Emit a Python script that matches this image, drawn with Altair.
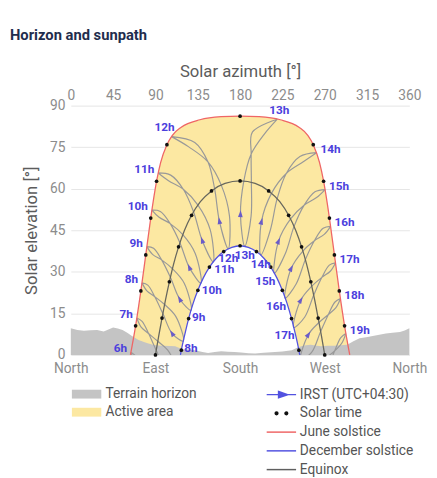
import altair as alt
import pandas as pd

# ---------------- data ----------------
TITLE = "Horizon and sunpath"
X_TITLE = "Solar azimuth [°]"
Y_TITLE = "Solar elevation [°]"
AZ_TICKS = [0, 45, 90, 135, 180, 225, 270, 315, 360]
COMPASS_TICKS = [0, 90, 180, 270, 360]
COMPASS_LABELS = ["North", "East", "South", "West", "North"]
EL_TICKS = [0, 15, 30, 45, 60, 75, 90]

TERRAIN_AZ = [0, 7, 14, 21, 28, 35, 40, 45, 50, 55, 60, 65, 72, 80, 88, 97, 105, 111,
              118, 125, 132, 140, 146, 153, 160, 167, 174, 181, 189, 196, 205, 217, 225,
              235, 240, 245, 250, 255, 260, 266, 273, 280, 287, 294, 300, 307, 314, 321,
              328, 335, 342, 350, 355, 360]
TERRAIN_EL = [9.6, 9.0, 8.7, 8.9, 9.0, 8.4, 9.2, 9.9, 9.5, 9.0, 8.0, 6.8, 5.4, 4.4, 3.6,
              3.3, 3.2, 3.1, 2.1, 1.9, 1.7, 1.0, 0.7, 1.0, 1.3, 1.1, 1.0, 0.9, 0.6, 0.5,
              0.8, 1.0, 1.2, 1.7, 2.5, 3.1, 3.5, 3.7, 3.4, 3.1, 3.3, 3.3, 3.5, 3.7, 4.8,
              6.0, 6.4, 6.8, 7.3, 7.7, 8.0, 8.3, 8.8, 9.6]

JUNE_AZ = [63.4, 68.9, 74.5, 79.7, 85.0, 91.2, 95.5, 102.2, 107.8, 117.4, 137.2, 159.8, 180.0,
           200.2, 222.8, 242.6, 252.2, 257.8, 264.5, 268.8, 275.0, 280.3, 285.5, 291.1, 296.6]
JUNE_EL = [0.0, 10.5, 23.1, 36.1, 49.4, 62.7, 69.4, 75.9, 79.2, 82.2, 84.9, 86.0, 86.2,
           86.0, 84.9, 82.2, 79.2, 75.9, 69.4, 62.7, 49.4, 36.1, 23.1, 10.5, 0.0]

DEC_AZ = [116.6, 117.5, 121.3, 125.3, 129.9, 135.1, 140.9, 147.4, 154.7, 162.6, 171.2, 180.0,
          188.8, 197.4, 205.3, 212.6, 219.1, 224.9, 230.1, 234.7, 238.8, 242.5, 243.4]
DEC_EL = [0.0, 1.7, 7.5, 13.1, 18.4, 23.3, 27.8, 31.7, 34.9, 37.3, 38.8, 39.4,
          38.8, 37.3, 34.9, 31.7, 27.8, 23.3, 18.4, 13.1, 7.5, 1.7, 0.0]

EQX_AZ = [90.0, 93.4, 97.0, 100.7, 104.8, 109.3, 114.6, 120.8, 128.4, 137.8, 149.6, 164.0, 180.0,
          196.0, 210.4, 222.2, 231.6, 239.2, 245.4, 250.7, 255.2, 259.3, 263.0, 266.6, 270.0]
EQX_EL = [0.0, 6.7, 13.3, 19.9, 26.4, 32.8, 39.0, 44.9, 50.4, 55.3, 59.2, 61.9, 62.8,
          61.9, 59.2, 55.3, 50.4, 44.9, 39.0, 32.8, 26.4, 19.9, 13.3, 6.7, 0.0]

# solar-time hour dots
JUNE_DOT_AZ = [68.9, 74.5, 79.7, 85.0, 91.2, 102.2, 180.0, 257.8, 268.8, 275.0, 280.3, 285.5, 291.1]
JUNE_DOT_EL = [10.5, 23.1, 36.1, 49.4, 62.7, 75.9, 86.2, 75.9, 62.7, 49.4, 36.1, 23.1, 10.5]
DEC_DOT_AZ = [117.5, 125.3, 135.1, 147.4, 162.6, 180.0, 197.4, 212.6, 224.9, 234.7, 242.5]
DEC_DOT_EL = [1.7, 13.1, 23.3, 31.7, 37.3, 39.4, 37.3, 31.7, 23.3, 13.1, 1.7]
EQX_DOT_AZ = [90.0, 97.0, 104.8, 114.6, 128.4, 149.6, 180.0, 210.4, 231.6, 245.4, 255.2, 263.0, 270.0]
EQX_DOT_EL = [0.0, 13.3, 26.4, 39.0, 50.4, 59.2, 62.8, 59.2, 50.4, 39.0, 26.4, 13.3, 0.0]

# IRST clock-hour analemmas (az, el), June end first
ANALEMMA_06H = [(64.0, 1.0), (68.2, -2.6), (75.9, -5.4), (69.3, -0.6), (64.0, 1.0)]
ANALEMMA_07H = [(70.2, 13.3), (74.8, 10.0), (82.7, 7.7), (92.5, 4.9), (104.2, 1.2), (112.8, -7.0),
                (100.8, -5.2), (90.8, 1.7), (82.7, 7.7), (75.8, 12.1), (70.2, 13.3)]
ANALEMMA_08H = [(75.7, 26.0), (80.9, 23.1), (89.3, 21.0), (99.7, 18.2), (111.6, 13.9), (119.6, 5.0),
                (107.8, 7.7), (97.9, 14.9), (89.3, 21.0), (81.8, 25.2), (75.7, 26.0)]
ANALEMMA_09H = [(80.9, 39.1), (86.9, 36.3), (96.6, 34.3), (108.1, 31.1), (120.6, 25.9), (127.9, 16.1),
                (115.9, 20.1), (105.9, 28.0), (96.6, 34.3), (88.0, 38.5), (80.9, 39.1)]
ANALEMMA_10H = [(86.2, 52.3), (93.9, 49.7), (105.7, 47.4), (119.1, 43.4), (132.3, 36.6), (138.3, 25.9),
                (126.1, 31.5), (116.0, 40.5), (105.7, 47.4), (95.2, 51.8), (86.2, 52.3)]
ANALEMMA_11H = [(92.9, 65.7), (103.9, 62.9), (119.6, 59.8), (135.2, 54.1), (148.2, 45.2), (151.4, 33.6),
                (139.7, 41.3), (130.5, 51.7), (119.6, 59.8), (106.2, 64.9), (92.9, 65.7)]
ANALEMMA_12H = [(107.1, 78.8), (125.4, 75.1), (145.8, 69.7), (160.0, 61.3), (168.7, 50.2), (167.4, 38.3),
                (158.0, 48.3), (152.9, 60.0), (145.8, 69.7), (131.8, 76.7), (107.1, 78.8)]
ANALEMMA_13H = [(219.6, 85.1), (193.2, 80.5), (191.8, 72.5), (192.0, 62.3), (191.7, 50.1), (185.0, 39.2),
                (180.4, 50.8), (184.0, 62.8), (191.8, 72.5), (206.0, 79.8), (219.6, 85.1)]
ANALEMMA_14H = [(261.3, 73.0), (243.6, 71.6), (229.1, 65.5), (219.4, 56.4), (212.2, 45.1), (202.0, 36.1),
                (202.7, 48.1), (213.5, 58.4), (229.1, 65.5), (247.2, 69.7), (261.3, 73.0)]
ANALEMMA_15H = [(270.4, 59.7), (259.6, 58.9), (248.0, 54.0), (237.4, 46.4), (227.9, 36.4), (216.4, 29.5),
                (220.8, 41.0), (233.7, 49.1), (248.0, 54.0), (261.3, 56.8), (270.4, 59.7)]
ANALEMMA_16H = [(276.3, 46.4), (268.3, 45.7), (259.0, 41.2), (249.4, 34.4), (239.6, 25.6), (227.9, 20.5),
                (234.3, 31.2), (246.8, 37.5), (259.0, 41.2), (269.5, 43.5), (276.3, 46.4)]
ANALEMMA_17H = [(281.4, 33.2), (274.9, 32.4), (267.0, 28.0), (258.3, 21.6), (248.6, 13.6), (237.0, 9.9),
                (244.4, 19.7), (256.3, 24.8), (267.0, 28.0), (275.9, 30.2), (281.4, 33.2)]
ANALEMMA_18H = [(286.7, 20.3), (280.9, 19.1), (273.9, 14.6), (265.6, 8.4), (256.0, 0.9), (244.4, -1.7),
                (252.5, 7.3), (263.9, 11.7), (273.9, 14.6), (281.9, 17.1), (286.7, 20.3)]
ANALEMMA_19H = [(292.4, 7.7), (287.1, 6.2), (280.5, 1.4), (272.5, -4.9), (270.9, -1.7), (280.5, 1.4),
                (288.1, 4.2), (292.4, 7.7)]

HOURS = [6, 7, 8, 9, 10, 11, 12, 13, 14, 15, 16, 17, 18, 19]
HOUR_LABELS = ["6h", "7h", "8h", "9h", "10h", "11h", "12h", "13h", "14h", "15h", "16h", "17h", "18h", "19h"]
ANALEMMAS = [ANALEMMA_06H, ANALEMMA_07H, ANALEMMA_08H, ANALEMMA_09H, ANALEMMA_10H, ANALEMMA_11H,
             ANALEMMA_12H, ANALEMMA_13H, ANALEMMA_14H, ANALEMMA_15H, ANALEMMA_16H, ANALEMMA_17H,
             ANALEMMA_18H, ANALEMMA_19H]

# December-end label hours and positions
DEC_END_HOURS = [8, 9, 10, 11, 12, 13, 14, 15, 16, 17]
DEC_END_AZ = [119.6, 127.9, 138.3, 151.4, 167.4, 185.0, 202.0, 216.4, 227.9, 237.0]
DEC_END_EL = [5.0, 16.1, 25.9, 33.6, 38.3, 39.2, 36.1, 29.5, 20.5, 9.9]

# direction arrows on the analemmas
ARROW_AZ = [107.8, 115.9, 126.1, 139.7, 158.0, 180.4, 202.7, 220.8, 234.3, 244.4, 252.5]
ARROW_EL = [7.7, 20.1, 31.5, 41.3, 48.3, 50.8, 48.1, 41.0, 31.2, 19.7, 7.3]
ARROW_ANGLE = [329, 332, 336, 341, 349, 2, 15, 23, 27, 31, 34]

LEGEND_AREA_ITEMS = ["Terrain horizon", "Active area"]
LEGEND_LINE_ITEMS = ["IRST (UTC+04:30)", "Solar time", "June solstice", "December solstice", "Equinox"]

# ---------------- styles ----------------
FONT = "Roboto"
C_TERRAIN = "#c4c4c4"
C_ACTIVE = "#fce8a2"
C_JUNE = "#ef6666"
C_DEC = "#5252e0"
C_EQX = "#67675e"
C_ANA = "#999999"
C_ARROW = "#6a5cc8"
C_LABEL = "#4b40dd"
C_DOT = "#111111"
C_AXLAB = "#8c8c8c"
C_AXTITLE = "#5c5c5c"

XS = alt.Scale(domain=[0, 360], nice=False, zero=False)
YS = alt.Scale(domain=[0, 90], nice=False, zero=False)

# ---------------- frames ----------------
terrain_df = pd.DataFrame({"az": TERRAIN_AZ, "el": TERRAIN_EL})
june_df = pd.DataFrame({"az": JUNE_AZ, "el": JUNE_EL})
dec_df = pd.DataFrame({"az": DEC_AZ, "el": DEC_EL})
eqx_df = pd.DataFrame({"az": EQX_AZ, "el": EQX_EL})
dots_df = pd.DataFrame({
    "az": JUNE_DOT_AZ + DEC_DOT_AZ + EQX_DOT_AZ,
    "el": JUNE_DOT_EL + DEC_DOT_EL + EQX_DOT_EL,
})
rows = []
for h, path in zip(HOURS, ANALEMMAS):
    for i, (a, e) in enumerate(path):
        rows.append({"hour": h, "seq": i, "az": a, "el": e})
ana_df = pd.DataFrame(rows)

june_lab_df = pd.DataFrame({
    "hour": HOURS, "label": HOUR_LABELS,
    "az": [p[0][0] for p in ANALEMMAS], "el": [p[0][1] for p in ANALEMMAS],
})
dec_lab_df = pd.DataFrame({
    "hour": DEC_END_HOURS,
    "label": [HOUR_LABELS[HOURS.index(h)] for h in DEC_END_HOURS],
    "az": DEC_END_AZ, "el": DEC_END_EL,
})
arrow_df = pd.DataFrame({"az": ARROW_AZ, "el": ARROW_EL, "ang": ARROW_ANGLE})

# ---------------- axes ----------------
compass_expr = " : ".join(
    f"datum.value == {v} ? '{l}'" for v, l in zip(COMPASS_TICKS, COMPASS_LABELS)
) + " : ''"

top_axis = alt.Axis(orient="top", values=AZ_TICKS, title=X_TITLE, grid=False, ticks=False,
                    domain=False, labelPadding=3, titlePadding=9, labelFontSize=14,
                    titleFontSize=17, labelColor=C_AXLAB, titleColor=C_AXTITLE,
                    titleFontWeight="normal", labelFlush=False, labelFont=FONT, titleFont=FONT)
bottom_axis = alt.Axis(orient="bottom", values=COMPASS_TICKS, labelExpr=compass_expr, title=None,
                       grid=False, ticks=False, domain=False, labelPadding=7, labelFontSize=14,
                       labelColor=C_AXLAB, labelFlush=False, labelFont=FONT)
y_axis = alt.Axis(values=EL_TICKS, title=Y_TITLE, grid=True, gridColor="#e6e6e6", ticks=False,
                  domain=False, labelPadding=6, titlePadding=9, labelFontSize=14,
                  titleFontSize=17, labelColor=C_AXLAB, titleColor=C_AXTITLE,
                  titleFontWeight="normal", labelFont=FONT, titleFont=FONT)


def enc(xaxis=None, yaxis=None):
    return dict(
        x=alt.X("az:Q", scale=XS, axis=xaxis),
        y=alt.Y("el:Q", scale=YS, axis=yaxis, stack=None),
    )


active = alt.Chart(june_df).mark_area(interpolate="monotone", color=C_ACTIVE, opacity=1).encode(
    **enc(top_axis, y_axis))
dec_hole = alt.Chart(dec_df).mark_area(interpolate="monotone", color="white", opacity=1).encode(**enc())
terrain = alt.Chart(terrain_df).mark_area(interpolate="linear", color=C_TERRAIN, opacity=1).encode(
    **enc(bottom_axis, None))

ana_lines = alt.Chart(ana_df).mark_line(interpolate="catmull-rom", color=C_ANA, strokeWidth=1.2,
                                         clip=True).encode(
    **enc(), detail="hour:N", order="seq:Q")
eqx_line = alt.Chart(eqx_df).mark_line(interpolate="monotone", color=C_EQX, strokeWidth=1.3,
                                        clip=True).encode(**enc())
june_line = alt.Chart(june_df).mark_line(interpolate="monotone", color=C_JUNE, strokeWidth=1.3,
                                          clip=True).encode(**enc())
dec_line = alt.Chart(dec_df).mark_line(interpolate="monotone", color=C_DEC, strokeWidth=1.3,
                                        clip=True).encode(**enc())
dots = alt.Chart(dots_df).mark_circle(size=14, color=C_DOT, opacity=1).encode(**enc())

ARROW_SHAPE = "M0,-1L0.6,0.75L-0.6,0.75Z"
arrows = alt.Chart(arrow_df).mark_point(shape=ARROW_SHAPE, filled=True, size=64, color=C_ARROW,
                                         opacity=1).encode(
    **enc(), angle=alt.Angle("ang:Q", scale=None))


def labels(df, cond, align, dx, dy):
    return alt.Chart(df).transform_filter(cond).mark_text(
        font=FONT, fontSize=12, fontWeight="bold", color=C_LABEL, align=align,
        baseline="middle", dx=dx, dy=dy).encode(**enc(), text="label:N")


lab_layers = [
    labels(june_lab_df, "datum.hour <= 11", "right", -4, -4),
    labels(june_lab_df, "datum.hour == 12", "right", 3, -10),
    labels(june_lab_df, "datum.hour == 13", "center", 2, -9),
    labels(june_lab_df, "datum.hour >= 14", "left", 4, -4),
    labels(dec_lab_df, "datum.hour <= 11", "left", 1, 7),
    labels(dec_lab_df, "datum.hour >= 12 && datum.hour <= 14", "center", 0, 9),
    labels(dec_lab_df, "datum.hour >= 15", "right", 1, 8),
]

# ---------------- legends ----------------
RECT = "M-2.46,-0.52H1V0.52H-2.46Z"
LINE = "M-2.46,0H1"
ARROW_LINE = "M-2.46,0H1M-1.06,-0.36L0,0L-1.06,0.36Z"
DOTS = ("M-1.46,0a0.16,0.16 0 1,0 0.32,0a0.16,0.16 0 1,0 -0.32,0Z"
        "M-0.31,0a0.16,0.16 0 1,0 0.32,0a0.16,0.16 0 1,0 -0.32,0Z")

legA = alt.Legend(title=None, orient="none", legendX=13.4, legendY=285, symbolSize=300,
                  labelFontSize=14, labelColor="#555555", labelFont=FONT, labelOffset=4,
                  rowPadding=2.4, symbolStrokeWidth=0)
legB = alt.Legend(title=None, orient="none", legendX=211.4, legendY=285, symbolSize=300,
                  labelFontSize=14, labelColor="#555555", labelFont=FONT, labelOffset=3,
                  rowPadding=2.1, symbolStrokeWidth=1.5)

legA_df = pd.DataFrame({"kind": LEGEND_AREA_ITEMS})
legB_df = pd.DataFrame({"series": LEGEND_LINE_ITEMS})

leg_area = alt.Chart(legA_df).transform_filter("false").mark_point(filled=True, opacity=1).encode(
    shape=alt.Shape("kind:N", scale=alt.Scale(domain=LEGEND_AREA_ITEMS, range=[RECT, RECT]), legend=legA),
    fill=alt.Fill("kind:N", scale=alt.Scale(domain=LEGEND_AREA_ITEMS, range=[C_TERRAIN, C_ACTIVE]),
                  legend=legA),
)
leg_line = alt.Chart(legB_df).transform_filter("false").mark_point(filled=True, opacity=1).encode(
    shape=alt.Shape("series:N", scale=alt.Scale(domain=LEGEND_LINE_ITEMS,
                                                 range=[ARROW_LINE, DOTS, LINE, LINE, LINE]),
                    legend=legB),
    fill=alt.Fill("series:N", scale=alt.Scale(domain=LEGEND_LINE_ITEMS,
                                               range=[C_DEC, C_DOT, "transparent", "transparent",
                                                      "transparent"]), legend=legB),
    stroke=alt.Stroke("series:N", scale=alt.Scale(domain=LEGEND_LINE_ITEMS,
                                                   range=[C_DEC, C_DOT, C_JUNE, C_DEC, "#5f5f5f"]),
                      legend=legB),
)

chart = alt.layer(
    active, dec_hole, terrain, ana_lines, eqx_line, june_line, dec_line, dots, arrows,
    *lab_layers, leg_area, leg_line,
).resolve_scale(
    fill="independent", stroke="independent", shape="independent",
).resolve_axis(
    x="independent", y="independent",
).properties(
    width=345, height=254,
    title=alt.TitleParams(TITLE, anchor="start", frame="group", dx=-62, offset=20, fontSize=15,
                          fontWeight="bold", color="#1f2d4d", font=FONT),
    autosize=alt.AutoSizeParams(type="none"),
    padding={"left": 64, "top": 95, "right": 20, "bottom": 122},
).configure(font=FONT).configure_view(stroke=None)

chart.save("out.html", embed_options={"renderer": "svg", "actions": False})
